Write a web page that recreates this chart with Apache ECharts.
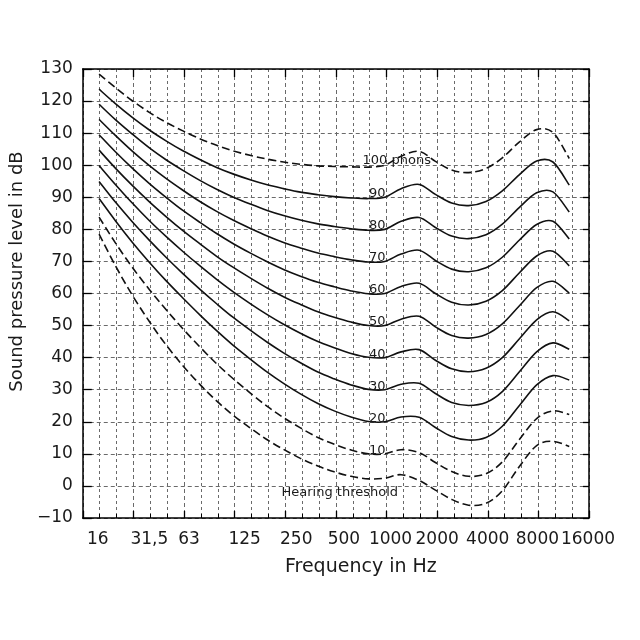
<!DOCTYPE html>
<html>
<head>
<meta charset="utf-8">
<script src="https://cdn.jsdelivr.net/npm/echarts@6.0.0/dist/echarts.min.js"></script>
<style>
html,body{margin:0;padding:0;background:#ffffff;}
#chart{width:640px;height:640px;}
</style>
</head>
<body>
<div id="chart"></div>
<script>
// Third-octave centre frequencies (Hz) at which the contours were read
const frequencies = [20, 25, 31.5, 40, 50, 63, 80, 100, 125, 160, 200, 250, 315, 400, 500, 630, 800,
  1000, 1250, 1600, 2000, 2500, 3150, 4000, 5000, 6300, 8000, 10000, 12500];

// Sound pressure level (dB) of each equal-loudness contour
const hearingThreshold = [78.5, 68.7, 59.5, 51.1, 44.0, 37.5, 31.5, 26.5, 22.1, 17.9, 14.4, 11.4, 8.6, 6.2, 4.4, 3.0, 2.2,
  2.4, 3.5, 1.7, -1.3, -4.2, -6.0, -5.4, -1.5, 6.0, 12.6, 13.9, 12.3];
const phon10 = [83.8, 75.8, 68.2, 61.1, 55.0, 49.0, 43.2, 38.1, 33.5, 28.8, 24.8, 21.3, 18.1, 15.1, 13.0, 11.2, 10.0,
  10.0, 11.3, 10.4, 7.3, 4.5, 3.0, 3.8, 7.5, 14.4, 21.0, 23.4, 22.3];
const phon20 = [89.6, 82.7, 76.0, 69.6, 64.0, 58.6, 53.2, 48.4, 43.9, 39.4, 35.5, 32.0, 28.7, 25.7, 23.4, 21.5, 20.1,
  20.0, 21.5, 21.4, 18.2, 15.4, 14.3, 15.1, 18.6, 25.0, 31.5, 34.4, 33.0];
const phon30 = [94.9, 88.5, 82.4, 76.5, 71.3, 66.2, 61.2, 56.8, 52.6, 48.4, 44.8, 41.5, 38.4, 35.5, 33.4, 31.5, 30.1,
  30.0, 31.7, 32.0, 28.8, 26.0, 25.1, 26.0, 29.4, 35.5, 41.8, 44.6, 42.6];
const phon40 = [99.9, 94.0, 88.2, 82.6, 77.8, 73.1, 68.5, 64.4, 60.6, 56.7, 53.4, 50.4, 47.6, 45.0, 43.1, 41.3, 40.1,
  40.0, 41.8, 42.5, 39.2, 36.5, 35.6, 36.7, 40.0, 45.8, 51.8, 54.3, 51.5];
const phon50 = [104.7, 99.1, 93.7, 88.5, 84.0, 79.6, 75.4, 71.6, 68.2, 64.7, 61.7, 59.0, 56.6, 54.3, 52.6, 51.1, 50.0,
  50.0, 52.0, 52.9, 49.6, 46.9, 46.1, 47.2, 50.5, 56.1, 61.8, 63.8, 60.1];
const phon60 = [109.5, 104.2, 99.1, 94.2, 90.0, 85.9, 82.1, 78.7, 75.6, 72.5, 69.9, 67.5, 65.4, 63.5, 62.1, 60.8, 59.9,
  60.0, 62.2, 63.2, 60.0, 57.3, 56.4, 57.6, 60.9, 66.4, 71.7, 73.2, 68.6];
const phon70 = [114.3, 109.3, 104.4, 99.8, 95.9, 92.2, 88.6, 85.6, 82.9, 80.2, 77.9, 75.9, 74.2, 72.6, 71.5, 70.5, 69.8,
  70.0, 72.3, 73.5, 70.3, 67.6, 66.8, 68.0, 71.3, 76.6, 81.5, 82.5, 77.0];
const phon80 = [119.0, 114.2, 109.7, 105.3, 101.7, 98.4, 95.2, 92.5, 90.1, 87.8, 85.9, 84.3, 82.9, 81.7, 80.9, 80.2, 79.7,
  80.0, 82.5, 83.7, 80.6, 77.9, 77.1, 78.3, 81.6, 86.8, 91.4, 91.7, 85.4];
const phon90 = [123.7, 119.2, 114.9, 110.9, 107.6, 104.5, 101.7, 99.3, 97.3, 95.4, 93.9, 92.7, 91.6, 90.8, 90.2, 89.8, 89.6,
  90.0, 92.7, 94.0, 90.9, 88.2, 87.4, 88.7, 92.0, 97.0, 101.3, 101.0, 93.8];
const phon100 = [128.4, 124.2, 120.1, 116.4, 113.4, 110.7, 108.2, 106.2, 104.5, 103.0, 101.9, 101.0, 100.3, 99.8, 99.6, 99.5, 99.4,
  100.0, 102.8, 104.3, 101.2, 98.5, 97.7, 99.0, 102.3, 107.2, 111.1, 110.2, 102.1];

// Axis tick labels (octaves from 16 Hz) and curve labels
const xTickLabels = ['16', '31,5', '63', '125', '250', '500', '1000', '2000', '4000', '8000', '16000'];
const curveNames = ['Hearing threshold', '10', '20', '30', '40', '50', '60', '70', '80', '90', '100 phons'];
const curveValues = [hearingThreshold, phon10, phon20, phon30, phon40, phon50, phon60, phon70, phon80, phon90, phon100];
const dashedCurves = ['Hearing threshold', '10', '100 phons'];

// x axis runs in third-octave steps above 16 Hz (log scale)
const bandOf = f => 3 * Math.log2(f / 16);
const labelFreqIndex = frequencies.indexOf(1000);

const FONT = 'DejaVu Sans';
const INK = '#1a1a1a';

// small horizontal nudges of the x tick labels, as typeset in the original figure (px)
const xLabelNudge = [15, 16, 5, 10, 11, 8, 4, 0, 0, -1, -1];
const xLabelRich = {};
xLabelNudge.forEach((n, i) => {
  xLabelRich['l' + i] = {
    fontFamily: FONT, fontSize: 17, color: INK,
    padding: n >= 0 ? [0, 0, 0, 2 * n] : [0, -2 * n, 0, 0]
  };
});

function labelOffset(name) {
  if (name === 'Hearing threshold') return [-45, 14];
  if (name === '100 phons') return [12, -4.5];
  return [-7.5, -3.5];
}

// Smooth curve through the points (Catmull-Rom -> cubic Bezier), positioned by the axes
function makeRenderItem(name, vals) {
  const dashed = dashedCurves.includes(name);
  const off = labelOffset(name);
  return function (params, api) {
    if (params.dataIndex !== 0) return null;
    const pts = vals.map((v, i) => api.coord([bandOf(frequencies[i]), v]));
    let d = 'M' + pts[0][0] + ',' + pts[0][1];
    for (let i = 0; i < pts.length - 1; i++) {
      const p0 = pts[Math.max(i - 1, 0)], p1 = pts[i], p2 = pts[i + 1], p3 = pts[Math.min(i + 2, pts.length - 1)];
      const c1x = p1[0] + (p2[0] - p0[0]) / 6, c1y = p1[1] + (p2[1] - p0[1]) / 6;
      const c2x = p2[0] - (p3[0] - p1[0]) / 6, c2y = p2[1] - (p3[1] - p1[1]) / 6;
      d += ' C' + c1x + ',' + c1y + ' ' + c2x + ',' + c2y + ' ' + p2[0] + ',' + p2[1];
    }
    const lp = pts[labelFreqIndex];
    return {
      type: 'group',
      children: [
        {
          type: 'path',
          shape: { pathData: d },
          style: { fill: 'none', stroke: '#111111', lineWidth: 1.6, lineDash: dashed ? [8, 4] : null }
        },
        {
          type: 'text',
          x: lp[0] + off[0],
          y: lp[1] + off[1],
          style: {
            text: name, fill: INK, font: '13px "' + FONT + '"',
            align: 'center', verticalAlign: 'middle',
            textAlign: 'center', textVerticalAlign: 'middle'
          }
        }
      ]
    };
  };
}

const series = curveNames.map((name, k) => ({
  name: name,
  type: 'custom',
  silent: true,
  animation: false,
  clip: false,
  z: 5,
  encode: { x: 0, y: 1 },
  renderItem: makeRenderItem(name, curveValues[k]),
  data: curveValues[k].map((v, i) => [bandOf(frequencies[i]), v])
}));

const gridLine = { show: true, lineStyle: { color: '#6a6a6a', width: 1, type: [4, 3] } };

const option = {
  backgroundColor: '#ffffff',
  animation: false,
  grid: { left: 82, right: 51, top: 69, bottom: 122, containLabel: false },
  xAxis: [
    {
      type: 'value',
      position: 'bottom',
      min: 0, max: 30, interval: 3,
      axisLine: { show: true, onZero: false, lineStyle: { color: '#000', width: 1.5 } },
      axisTick: { show: true, inside: true, length: 7, lineStyle: { color: '#000', width: 1.3 } },
      minorTick: { show: true, splitNumber: 3, length: 4, lineStyle: { color: '#000', width: 1 } },
      splitLine: gridLine,
      minorSplitLine: { show: true, lineStyle: { color: '#6a6a6a', width: 1, type: [3, 3] } },
      axisLabel: {
        formatter: v => {
          const i = Math.round(v / 3);
          return '{l' + i + '|' + xTickLabels[i] + '}';
        },
        rich: xLabelRich,
        fontFamily: FONT, fontSize: 17, color: INK, margin: 13
      },
      name: 'Frequency in Hz',
      nameLocation: 'middle',
      nameGap: 40,
      nameTextStyle: { fontFamily: FONT, fontSize: 19, color: INK, padding: [0, 0, 0, 50] }
    },
    {
      type: 'value',
      position: 'top',
      min: 0, max: 30, interval: 3,
      axisLine: { show: true, onZero: false, lineStyle: { color: '#000', width: 1.5 } },
      axisTick: { show: true, inside: true, length: 8, lineStyle: { color: '#000', width: 1.3 } },
      axisLabel: { show: false },
      splitLine: { show: false }
    }
  ],
  yAxis: [
    {
      type: 'value',
      position: 'left',
      min: -10, max: 130, interval: 10,
      axisLine: { show: true, onZero: false, lineStyle: { color: '#000', width: 1.5 } },
      axisTick: { show: true, inside: true, length: 9, lineStyle: { color: '#000', width: 1.3 } },
      splitLine: gridLine,
      axisLabel: {
        formatter: v => String(v).replace('-', '\u2212'),
        fontFamily: FONT, fontSize: 17, color: INK, margin: 10
      },
      name: 'Sound pressure level in dB',
      nameLocation: 'middle',
      nameGap: 54,
      nameRotate: 90,
      nameTextStyle: { fontFamily: FONT, fontSize: 18, color: INK, padding: [0, 0, 0, 44] }
    },
    {
      type: 'value',
      position: 'right',
      min: -10, max: 130, interval: 10,
      axisLine: { show: true, onZero: false, lineStyle: { color: '#000', width: 1.5 } },
      axisTick: { show: true, inside: true, length: 6, lineStyle: { color: '#000', width: 1.3 } },
      axisLabel: { show: false },
      splitLine: { show: false }
    }
  ],
  series: series
};

const chart = echarts.init(document.getElementById('chart'), null, { renderer: 'canvas' });
chart.setOption(option);
</script>
</body>
</html>
